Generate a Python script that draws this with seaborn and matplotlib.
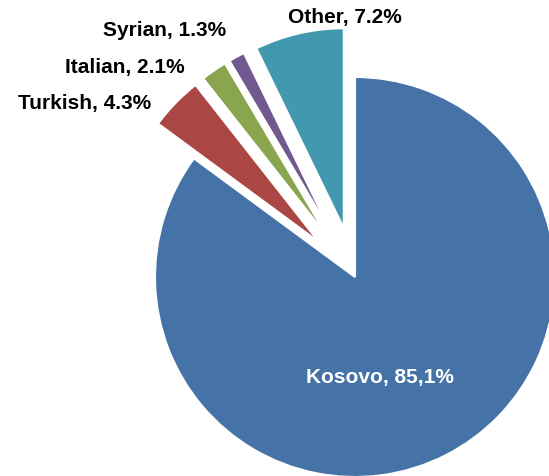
import matplotlib
matplotlib.use("Agg")
import matplotlib.pyplot as plt
import seaborn as sns

# data
groups = ["Kosovo", "Turkish", "Italian", "Syrian", "Other"]
shares = [85.1, 4.3, 2.1, 1.3, 7.2]
share_labels = ["Kosovo, 85,1%", "Turkish, 4.3%", "Italian, 2.1%", "Syrian, 1.3%", "Other, 7.2%"]
explode = [0, 0.25, 0.25, 0.25, 0.25]
colors = ["#4572A7", "#AA4643", "#89A54E", "#71588F", "#4198AF"]

# where the labels sit (data units, pie radius = 1)
label_pos = [(0.125, -0.5), (-1.35, 0.87), (-1.15, 1.05), (-0.95, 1.235), (-0.05, 1.30)]
label_colors = ["white", "black", "black", "black", "black"]

sns.set_theme(style="white")
plt.rcParams['font.family'] = ['Liberation Sans', 'DejaVu Sans']

fig = plt.figure(figsize=(5.49, 4.77), dpi=100)
ax = fig.add_axes([0, 0, 1, 1])

ax.pie(
    shares,
    explode=explode,
    colors=sns.color_palette(colors),
    startangle=90,
    counterclock=False,
    radius=1,
    wedgeprops=dict(edgecolor="white", linewidth=1.5),
)

for txt, (x, y), c in zip(share_labels, label_pos, label_colors):
    ax.text(x, y, txt, ha="center", va="center", fontsize=15,
            fontweight="bold", color=c)

ax.set_xlim(-1.775, 0.97)
ax.set_ylim(-0.995, 1.39)
ax.set_aspect("equal")
ax.axis("off")

fig.savefig("out.png", dpi=100)
